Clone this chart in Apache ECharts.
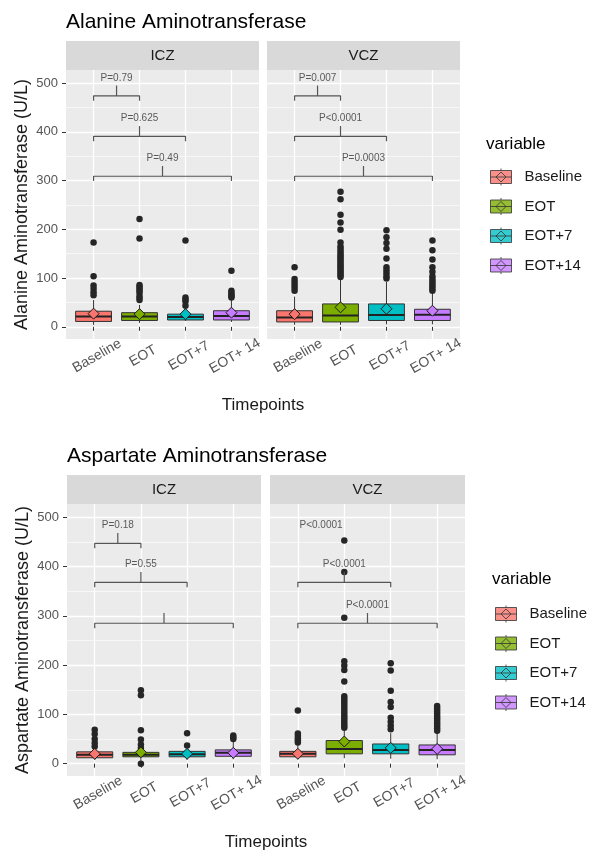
<!DOCTYPE html>
<html>
<head>
<meta charset="utf-8">
<title>ALT / AST by timepoint</title>
<script src="https://cdn.jsdelivr.net/npm/echarts@6/dist/echarts.min.js"></script>
<style>
  html, body { margin: 0; padding: 0; background: #fff; }
  #main { width: 591px; height: 853px; }
</style>
</head>
<body>
<div id="main"></div>
<script>
var timepoints = ['Baseline', 'EOT', 'EOT+7', 'EOT+14'];
var tickLabels = ['Baseline', 'EOT', 'EOT+7', 'EOT+ 14'];
var fills = ['#F8766D', '#7CAE00', '#00BFC4', '#C77CFF'];
var yTicks = [0, 100, 200, 300, 400, 500];
var xTicks = [1, 2, 3, 4];

// box stats per timepoint: [min, Q1, median, Q3, max]
var altIczBox = [[4, 11, 21, 32, 55], [8, 13, 21, 29, 45], [12, 14, 20, 26, 36], [10, 14, 22, 33, 55]];
var altIczMean = [27, 26, 26, 29];
var altIczOut = [[173, 104, 85, 78, 71, 65], [221, 181, 86, 82, 78, 74, 70, 63, 59, 55], [177, 60, 56, 52, 43], [115, 74, 70, 66, 63, 60]];

var altVczBox = [[4, 10, 19, 33, 62], [4, 10, 23, 47, 98], [5, 13, 24, 47, 92], [5, 13, 25, 36, 68]];
var altVczMean = [26, 40, 37, 33];
var altVczOut = [[122, 98, 92, 86, 80, 74],
  [277, 262, 230, 214, 199, 173, 165, 160, 155, 150, 146, 142, 138, 134, 130, 126, 122, 118, 114, 110, 106, 102],
  [198, 184, 172, 160, 140, 122, 116, 110, 104, 99],
  [177, 157, 138, 122, 113, 104, 98, 93, 88, 83, 78, 74]];

var astIczBox = [[8, 12, 18, 24, 30], [5, 14, 18, 23, 28], [8, 14, 19, 25, 30], [9, 15, 22, 28, 45]];
var astIczMean = [20, 23, 20, 22];
var astIczOut = [[69, 60, 50, 42, 35], [149, 139, 68, 49, 39, 32, 0], [62, 37], [57, 53, 50]];

var astVczBox = [[9, 14, 20, 25, 39], [11, 20, 30, 47, 68], [10, 20, 28, 40, 62], [9, 18, 28, 38, 62]];
var astVczMean = [20, 45, 32, 30];
var astVczOut = [[108, 61, 56, 51, 47, 43],
  [453, 389, 296, 208, 199, 190, 167, 137, 132, 127, 122, 117, 112, 107, 102, 97, 92, 87, 82, 77, 73],
  [204, 189, 148, 125, 115, 93, 85, 77, 70],
  [117, 112, 107, 102, 97, 92, 87, 82, 77, 72, 67]];

// significance brackets
var pairs = [[1, 2], [1, 3], [1, 4]];
var altBracketY = [474, 391, 309];
var astBracketY = [447, 368, 285];
var altIczP = ['P=0.79', 'P=0.625', 'P=0.49'];
var altVczP = ['P=0.007', 'P<0.0001', 'P=0.0003'];
var astIczP = ['P=0.18', 'P=0.55', ''];
var astVczP = ['P<0.0001', 'P<0.0001', 'P<0.0001'];
var astVczDrawn = [false, true, true];

var FONT = 'Liberation Sans, Arial, sans-serif';
var panels = [
  { strip: 'ICZ', box: altIczBox, mean: altIczMean, out: altIczOut, by: altBracketY, p: altIczP, drawn: [true, true, true],
    grid: { left: 66, top: 70, width: 193, height: 269 }, yName: 'Alanine Aminotransferase (U/L)' },
  { strip: 'VCZ', box: altVczBox, mean: altVczMean, out: altVczOut, by: altBracketY, p: altVczP, drawn: [true, true, true],
    grid: { left: 267, top: 70, width: 193, height: 269 } },
  { strip: 'ICZ', box: astIczBox, mean: astIczMean, out: astIczOut, by: astBracketY, p: astIczP, drawn: [true, true, true],
    grid: { left: 67, top: 504, width: 194, height: 272 }, yName: 'Aspartate Aminotransferase (U/L)' },
  { strip: 'VCZ', box: astVczBox, mean: astVczMean, out: astVczOut, by: astBracketY, p: astVczP, drawn: astVczDrawn,
    grid: { left: 270, top: 504, width: 195, height: 272 } }
];

function renderBox(params, api) {
  var x = api.value(0);
  var lo = api.coord([x, api.value(1)]);
  var q1 = api.coord([x, api.value(2)]);
  var md = api.coord([x, api.value(3)]);
  var q3 = api.coord([x, api.value(4)]);
  var hi = api.coord([x, api.value(5)]);
  var w = api.size([0.78, 0])[0];
  var edge = { stroke: '#333', lineWidth: 1 };
  return {
    type: 'group',
    children: [
      { type: 'line', shape: { x1: lo[0], y1: lo[1], x2: q1[0], y2: q1[1] }, style: edge },
      { type: 'line', shape: { x1: q3[0], y1: q3[1], x2: hi[0], y2: hi[1] }, style: edge },
      { type: 'rect', shape: { x: q3[0] - w / 2, y: q3[1], width: w, height: q1[1] - q3[1] },
        style: { fill: fills[x - 1], stroke: '#333', lineWidth: 1 } },
      { type: 'line', shape: { x1: md[0] - w / 2, y1: md[1], x2: md[0] + w / 2, y2: md[1] },
        style: { stroke: '#222', lineWidth: 2 } }
    ]
  };
}

var grids = [], xAxes = [], yAxes = [], series = [], graphics = [];

panels.forEach(function (pn, k) {
  grids.push({
    left: pn.grid.left, top: pn.grid.top, width: pn.grid.width, height: pn.grid.height,
    show: true, backgroundColor: '#ebebeb', borderWidth: 0, containLabel: false, outerBoundsMode: 'none'
  });
  xAxes.push({
    gridIndex: k, type: 'value', min: 0.4, max: 4.6, minInterval: 1, maxInterval: 1,
    axisLine: { show: false },
    axisTick: { show: true, customValues: xTicks, length: 4, lineStyle: { color: '#333' } },
    axisLabel: {
      customValues: xTicks, formatter: function (v) { return tickLabels[Math.round(v) - 1]; },
      rotate: 30, align: 'center', verticalAlign: 'middle', margin: 19, padding: [0, 0, 0, 8],
      color: '#555', fontSize: 14, fontFamily: FONT
    },
    splitLine: { show: true, lineStyle: { color: '#fff', width: 1.3 } }
  });
  var left = !!pn.yName;
  yAxes.push({
    gridIndex: k, type: 'value', min: -25, max: 527, minInterval: 100, maxInterval: 100,
    axisLine: { show: false },
    axisTick: { show: left, customValues: yTicks, length: 4, lineStyle: { color: '#333' } },
    axisLabel: { show: left, customValues: yTicks, color: '#555', fontSize: 13, margin: 8, fontFamily: FONT },
    splitLine: { show: true, lineStyle: { color: '#fff', width: 1.3 } },
    minorTick: { show: false, splitNumber: 2 },
    minorSplitLine: { show: true, lineStyle: { color: '#fff', width: 0.6 } },
    name: pn.yName || '', nameLocation: 'middle', nameGap: 35,
    nameTextStyle: { fontSize: 18, color: '#1a1a1a', fontFamily: FONT }
  });

  // boxes
  series.push({
    type: 'custom', xAxisIndex: k, yAxisIndex: k, renderItem: renderBox, silent: true,
    encode: { x: 0, y: [1, 2, 3, 4, 5] },
    data: pn.box.map(function (b, i) { return [i + 1].concat(b); })
  });
  // outliers
  var outPts = [];
  pn.out.forEach(function (vals, i) {
    vals.forEach(function (v) { outPts.push([i + 1, v]); });
  });
  series.push({
    type: 'scatter', xAxisIndex: k, yAxisIndex: k, silent: true, z: 3,
    symbol: 'circle', symbolSize: 6.5, itemStyle: { color: '#262626', opacity: 1 },
    data: outPts
  });
  // means
  series.push({
    type: 'scatter', xAxisIndex: k, yAxisIndex: k, silent: true, z: 4,
    symbol: 'diamond', symbolSize: 11,
    itemStyle: { borderColor: '#1a1a1a', borderWidth: 1, opacity: 1 },
    data: pn.mean.map(function (m, i) { return { value: [i + 1, m], itemStyle: { color: fills[i] } }; })
  });
  // brackets + p labels
  var labels = [];
  pairs.forEach(function (pr, j) {
    var a = pr[0], b = pr[1], m = (a + b) / 2, y = pn.by[j];
    if (pn.drawn[j]) {
      series.push({
        type: 'line', xAxisIndex: k, yAxisIndex: k, silent: true, z: 5,
        symbol: 'none', lineStyle: { color: '#555', width: 1.2 },
        data: [[a, y - 10], [a, y], [m, y], [m, y + 21], [m, y], [b, y], [b, y - 10]]
      });
    }
    if (pn.p[j]) labels.push({ value: [m, y + 21], name: pn.p[j] });
  });
  series.push({
    type: 'scatter', xAxisIndex: k, yAxisIndex: k, silent: true, z: 6,
    symbolSize: 1, itemStyle: { color: 'rgba(0,0,0,0)' },
    label: { show: true, position: 'top', distance: 2, formatter: '{b}', color: '#333', fontSize: 10, fontFamily: FONT },
    data: labels
  });

  // facet strip
  graphics.push({ type: 'rect', shape: { x: pn.grid.left, y: pn.grid.top - 29, width: pn.grid.width, height: 29 },
    style: { fill: '#d9d9d9' }, silent: true });
  graphics.push({ type: 'text', x: pn.grid.left + pn.grid.width / 2, y: pn.grid.top - 14.5,
    style: { text: pn.strip, fill: '#1a1a1a', font: '15px ' + FONT, align: 'center', verticalAlign: 'middle' }, silent: true });
});

// empty series that only feed the legends
timepoints.forEach(function (t, i) {
  series.push({ type: 'scatter', name: t, xAxisIndex: 0, yAxisIndex: 0, data: [],
    itemStyle: { color: fills[i], borderColor: '#333', borderWidth: 1 } });
});

graphics.push({ type: 'text', x: 263, y: 405,
  style: { text: 'Timepoints', fill: '#1a1a1a', font: '17px ' + FONT, align: 'center', verticalAlign: 'middle' } });
graphics.push({ type: 'text', x: 266, y: 842,
  style: { text: 'Timepoints', fill: '#1a1a1a', font: '17px ' + FONT, align: 'center', verticalAlign: 'middle' } });

var keyIcon = 'path://M1,2H22V15H1Z M11.5,0V2 M11.5,15V17 M1,8.5H22 M11.5,3.5L16.5,8.5L11.5,13.5L6.5,8.5Z';
function legendAt(left, top) {
  return {
    data: timepoints, orient: 'vertical', left: left, top: top, padding: 0,
    itemWidth: 23, itemHeight: 17, itemGap: 11.5, icon: keyIcon, selectedMode: false,
    itemStyle: { borderColor: '#333', borderWidth: 1 },
    textStyle: { fontSize: 15, color: '#1a1a1a', fontFamily: FONT, padding: [0, 0, 0, 7] }
  };
}

var titleStyle = { fontWeight: 'normal', color: '#000', fontFamily: FONT };
var chart = echarts.init(document.getElementById('main'));
chart.setOption({
  animation: false,
  backgroundColor: '#fff',
  textStyle: { fontFamily: FONT },
  title: [
    { text: 'Alanine Aminotransferase', left: 66, top: 12, padding: 0, textStyle: Object.assign({ fontSize: 21 }, titleStyle) },
    { text: 'Aspartate Aminotransferase', left: 67, top: 446, padding: 0, textStyle: Object.assign({ fontSize: 21 }, titleStyle) },
    { text: 'variable', left: 486, top: 136, padding: 0, textStyle: Object.assign({ fontSize: 17 }, titleStyle) },
    { text: 'variable', left: 492, top: 571, padding: 0, textStyle: Object.assign({ fontSize: 17 }, titleStyle) }
  ],
  legend: [legendAt(490, 168), legendAt(495, 605)],
  grid: grids,
  xAxis: xAxes,
  yAxis: yAxes,
  series: series,
  graphic: graphics
});
</script>
</body>
</html>
